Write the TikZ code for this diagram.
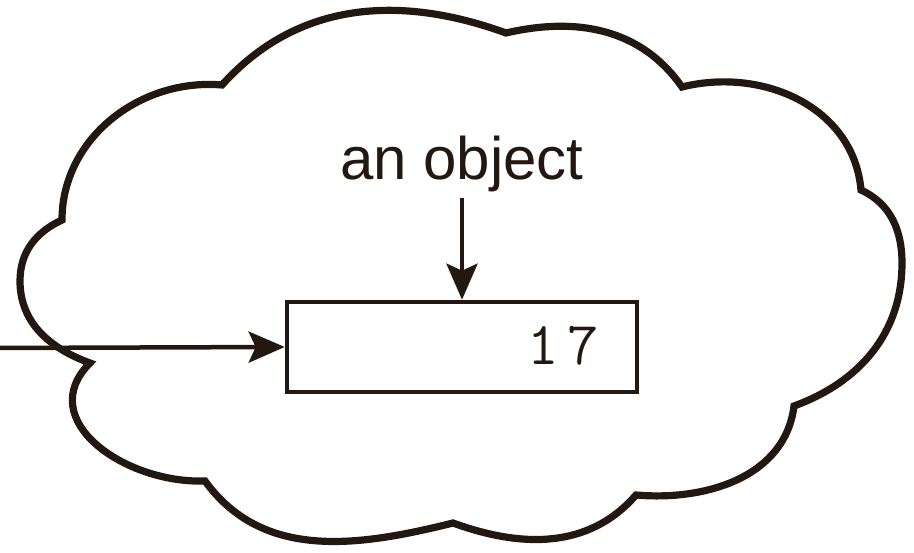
\documentclass[tikz,border=0pt]{standalone}
\usepackage{fontspec}
\setmainfont{Liberation Sans}
\usetikzlibrary{arrows.meta}
\definecolor{ink}{RGB}{35,24,16}
\begin{document}
\begin{tikzpicture}[x=1pt,y=1pt,
  cloudline/.style={draw=ink,line width=7.2pt,line join=miter},
  objbox/.style={draw=ink,line width=4.6pt,minimum width=350pt,minimum height=90pt,inner sep=0pt,fill=white},
  conn/.style={draw=ink,line width=4.5pt,-{Stealth[length=36pt,width=31pt,inset=7pt]}},
  lbl/.style={text=ink,font=\fontsize{60}{60}\selectfont,inner sep=0pt}]
\useasboundingbox (0,0) rectangle (914,553);
% cusp points of the cloud
\coordinate (c1) at (62,333);
\coordinate (c2) at (222,468);
\coordinate (c3) at (506,520);
\coordinate (c4) at (682,466);
\coordinate (c5) at (861,363);
\coordinate (c6) at (794,147);
\coordinate (c7) at (636,58);
\coordinate (c8) at (453,30);
\coordinate (c9) at (205,72);
\coordinate (c10) at (90,190);
\draw[cloudline,fill=white]
  (c1) to[out=90,in=175] (c2)
       to[out=48,in=160] (c3)
       to[out=13,in=125] (c4)
       to[out=14,in=95,looseness=1.03] (c5)
       to[out=-25,in=90] (902,290) to[out=-90,in=20] (c6)
       to[out=-97,in=-5] (c7)
       to[out=229,in=-20] (c8)
       to[out=194,in=-54] (c9)
       to[out=182,in=225,looseness=1.25] (c10)
       to[out=160,in=-90] (20,272) to[out=90,in=205] (c1) -- cycle;
\node[objbox] (box) at (462,206) {};
\node[lbl,font=\ttfamily\fontsize{61}{61}\selectfont,anchor=base east] (val) at (599,188) {1\kern8pt 7};
\node[lbl,anchor=base] (label) at (462,373) {an object};
\coordinate (lblfoot) at (462,355);
\coordinate (start) at (0,205);
\draw[conn] (lblfoot) -- (box.north);
\draw[conn] (start) -- (box.west);
\end{tikzpicture}
\end{document}
